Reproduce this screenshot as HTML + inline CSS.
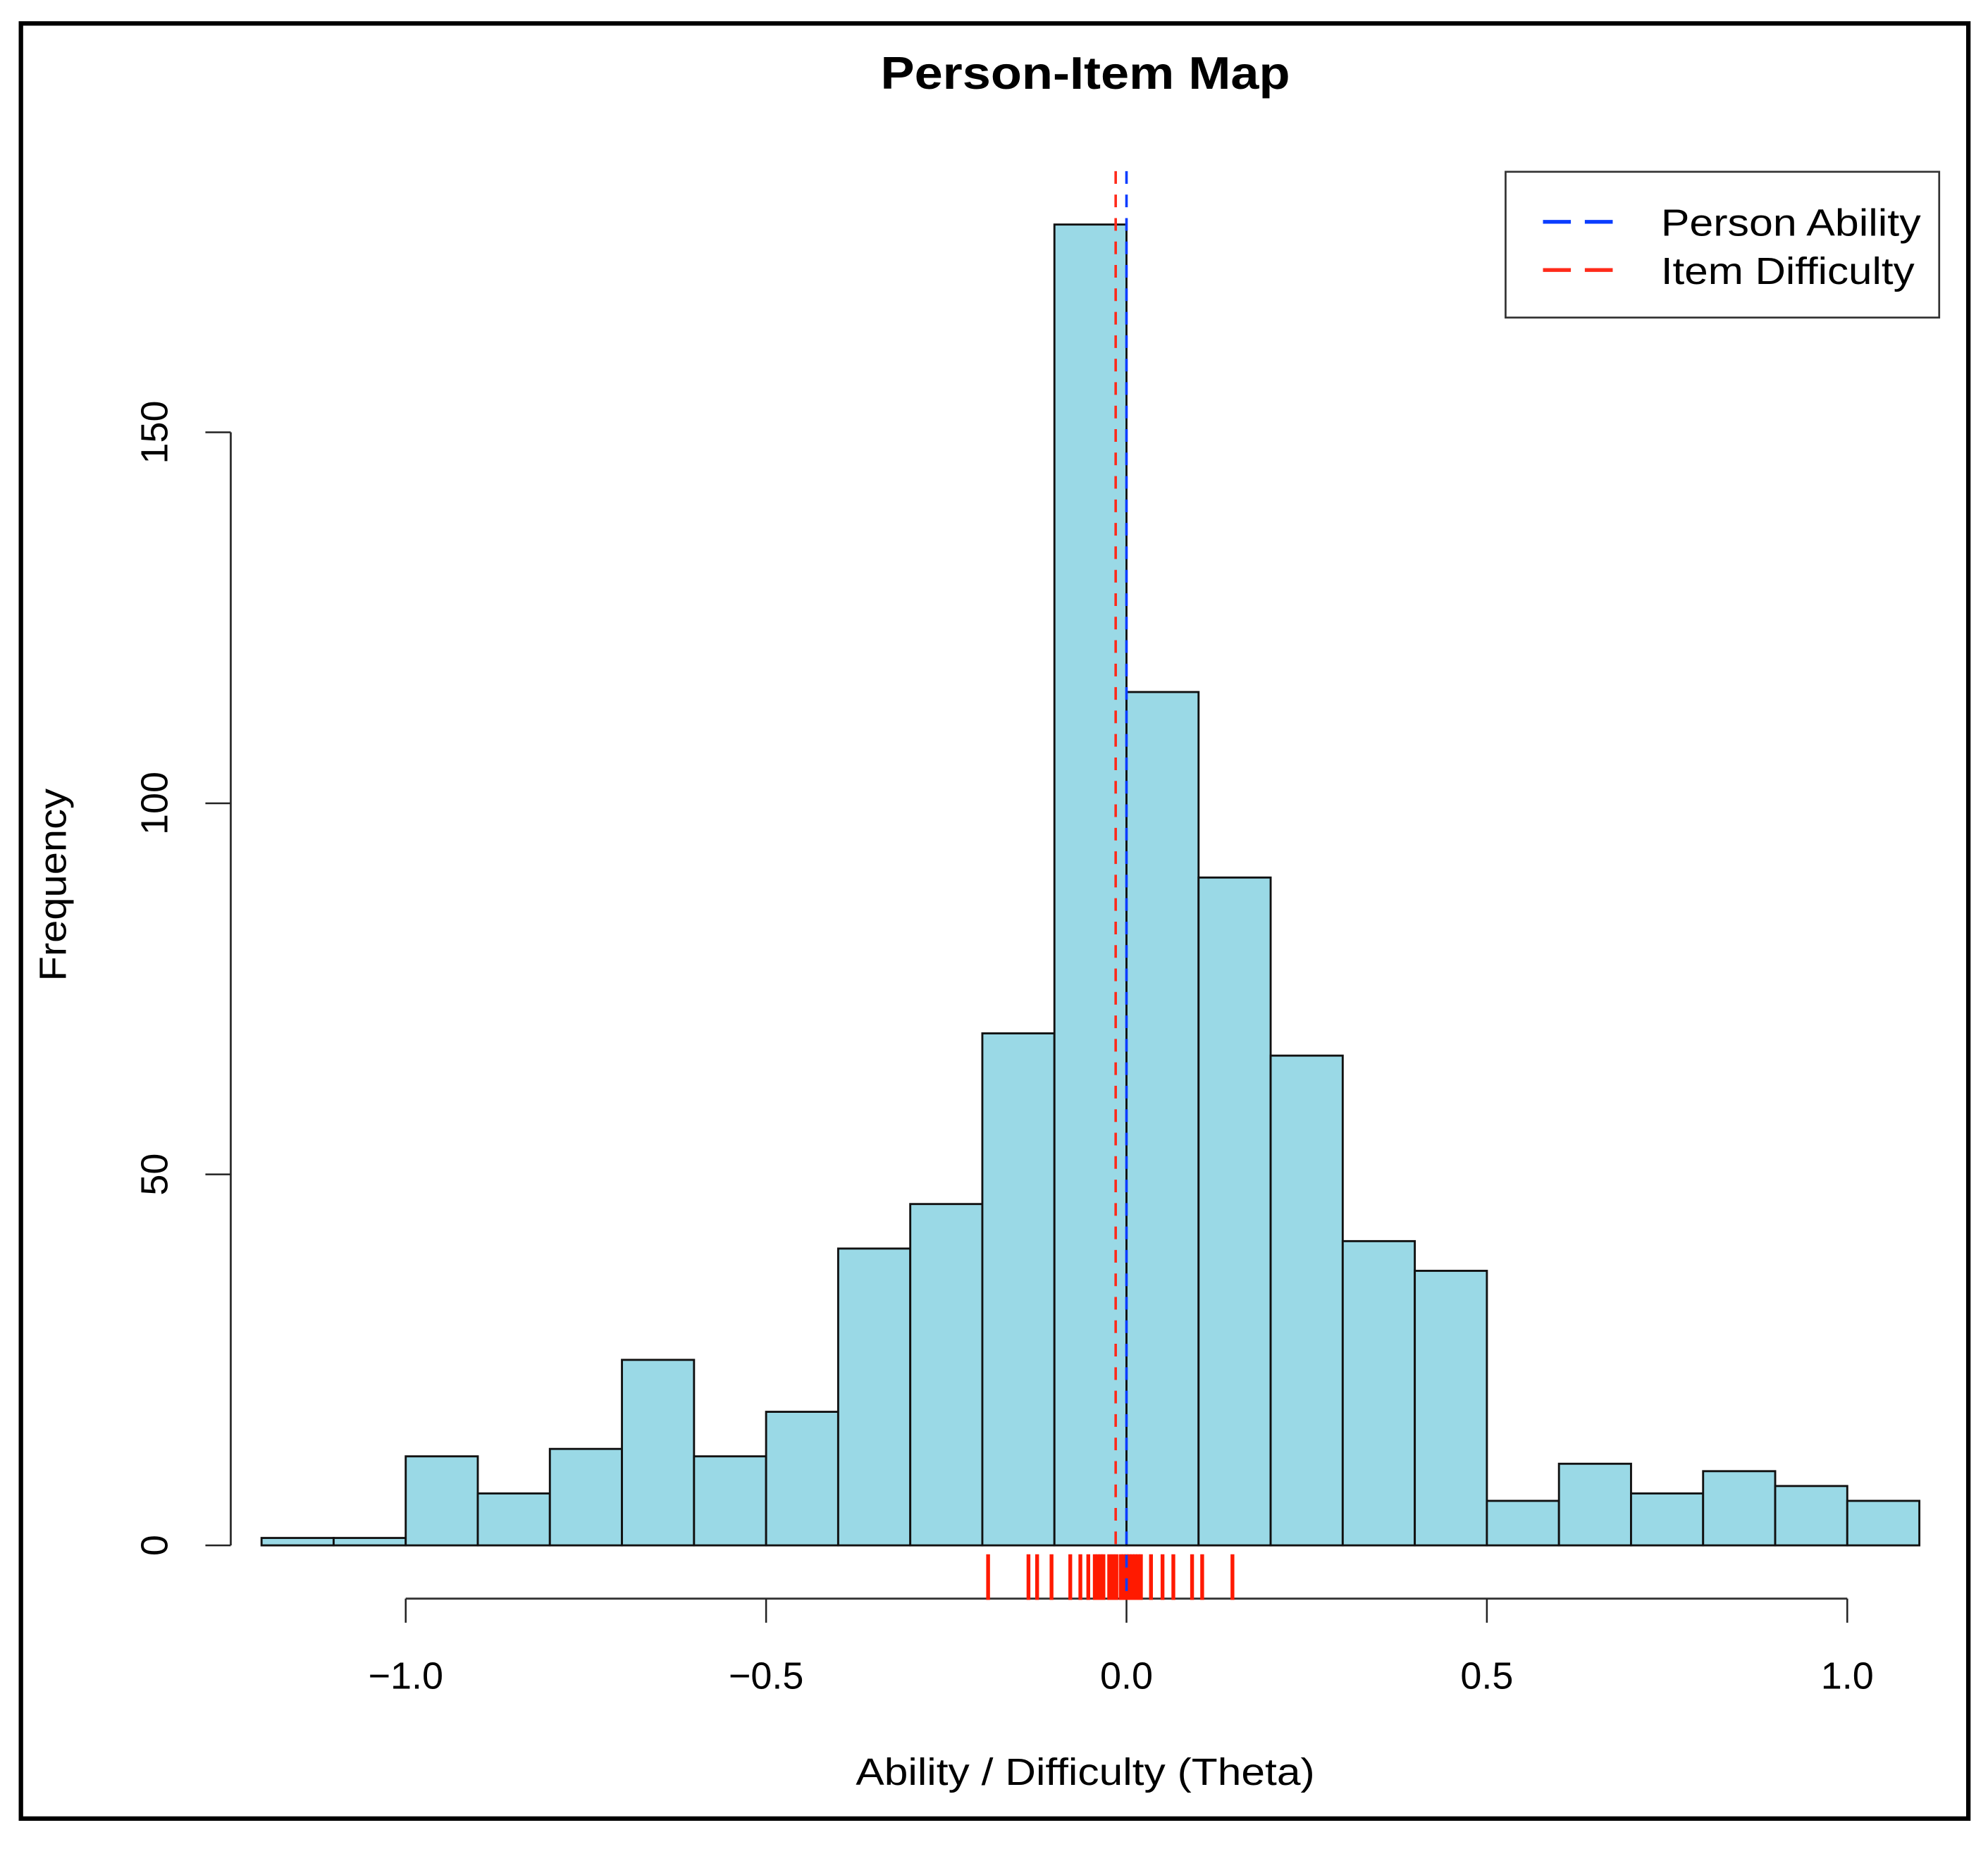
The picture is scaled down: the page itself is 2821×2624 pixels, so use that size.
<!DOCTYPE html>
<html><head><meta charset="utf-8"><style>
html,body{margin:0;padding:0;background:#fff;}
svg{display:block;font-family:"Liberation Sans",Arial,sans-serif;}
</style></head>
<body>
<svg id="chart" width="2821" height="2624" viewBox="0 0 1568 1458.5" xmlns="http://www.w3.org/2000/svg">
<rect x="0" y="0" width="1568" height="1458.5" fill="#fff"/>
<rect x="16.5" y="18.5" width="1536" height="1416" fill="none" stroke="#000" stroke-width="3.5"/>
<text x="856" y="70" text-anchor="middle" font-weight="bold" font-size="36" textLength="323" lengthAdjust="spacingAndGlyphs">Person-Item Map</text>
<g id="bars"></g>
<g id="yaxis"></g>
<g id="xaxis"></g>
<g id="rug"></g>
<g id="refs"></g>
<text transform="translate(52,698) rotate(-90)" text-anchor="middle" font-size="30" textLength="152" lengthAdjust="spacingAndGlyphs">Frequency</text>
<text x="856" y="1408" text-anchor="middle" font-size="30" textLength="362" lengthAdjust="spacingAndGlyphs">Ability / Difficulty (Theta)</text>
<g>
<rect x="1187.5" y="135.5" width="342" height="115" fill="#fff" stroke="#333" stroke-width="1.5"/>
<g>
<line x1="1217" y1="175" x2="1272" y2="175" stroke="#0a3cff" stroke-width="3" stroke-dasharray="22,11"/>
<text x="1310" y="186" font-size="30" textLength="205" lengthAdjust="spacingAndGlyphs">Person Ability</text>
</g>
<g>
<line x1="1217" y1="213" x2="1272" y2="213" stroke="#ff2a1a" stroke-width="3" stroke-dasharray="22,11"/>
<text x="1310" y="224" font-size="30" textLength="200" lengthAdjust="spacingAndGlyphs">Item Difficulty</text>
</g>
</g>
</svg>
<script>
const binStarts = [-1.2,-1.1,-1.0,-0.9,-0.8,-0.7,-0.6,-0.5,-0.4,-0.3,-0.2,-0.1,0.0,0.1,0.2,0.3,0.4,0.5,0.6,0.7,0.8,0.9,1.0];
const counts = [1,1,12,7,13,25,12,18,40,46,69,178,115,90,66,41,37,6,11,7,10,8,6];
const binWidth = 0.1;
const yTicks = [0,50,100,150];
const xTicks = [-1.0,-0.5,0.0,0.5,1.0];
const xTickLabels = ["\u22121.0","\u22120.5","0.0","0.5","1.0"];
const itemDifficulties = [-0.192,-0.136,-0.124,-0.104,-0.078,-0.064,-0.053,-0.044,-0.040,-0.036,-0.032,-0.024,-0.019,-0.014,-0.008,-0.004,0.0,0.004,0.008,0.012,0.016,0.020,0.034,0.050,0.065,0.091,0.105,0.147];
const personMean = 0.0;
const itemMean = -0.015;

const NS = "http://www.w3.org/2000/svg";
function xs(v){ return 888.5 + v * 568.5; }
function ys(v){ return 1219 - v * (878 / 150); }
function mk(tag, attrs, parent){
  const e = document.createElementNS(NS, tag);
  for (const k in attrs) e.setAttribute(k, attrs[k]);
  parent.appendChild(e);
  return e;
}
const bars = document.getElementById('bars');
binStarts.forEach((b, i) => {
  const x0 = xs(b), x1 = xs(b + binWidth), y = ys(counts[i]);
  const r = mk('rect', {x:x0, y:y, width:x1-x0, height:ys(0)-y, fill:'#9ad9e6', stroke:'#111', 'stroke-width':1.6}, bars);
  
  
});
const ya = document.getElementById('yaxis');
mk('line', {x1:182, y1:ys(yTicks[0]), x2:182, y2:ys(yTicks[yTicks.length-1]), stroke:'#333', 'stroke-width':1.6}, ya);
yTicks.forEach(t => {
  mk('line', {x1:162, y1:ys(t), x2:182, y2:ys(t), stroke:'#222', 'stroke-width':1.4}, ya);
  const tx = mk('text', {transform:`translate(132,${ys(t)}) rotate(-90)`, 'text-anchor':'middle', 'font-size':30}, ya);
  tx.textContent = String(t);
  
  
});
const xa = document.getElementById('xaxis');
mk('line', {x1:xs(xTicks[0]), y1:1261, x2:xs(xTicks[xTicks.length-1]), y2:1261, stroke:'#333', 'stroke-width':1.6}, xa);
xTicks.forEach((t, i) => {
  mk('line', {x1:xs(t), y1:1261, x2:xs(t), y2:1280, stroke:'#222', 'stroke-width':1.4}, xa);
  const tx = mk('text', {x:xs(t), y:1332, 'text-anchor':'middle', 'font-size':30}, xa);
  tx.textContent = xTickLabels[i];
  
  
});
const rug = document.getElementById('rug');
itemDifficulties.forEach(d => {
  const l = mk('line', {x1:xs(d), y1:1226, x2:xs(d), y2:1262, stroke:'#ff1a00', 'stroke-width':3}, rug);
  
  
});
const refs = document.getElementById('refs');
const rl = mk('line', {x1:xs(itemMean), y1:135, x2:xs(itemMean), y2:1219, stroke:'#ff2a1a', 'stroke-width':2, 'stroke-dasharray':'10,8.5'}, refs);


const bl = mk('line', {x1:xs(personMean), y1:135, x2:xs(personMean), y2:1262, stroke:'#0a3cff', 'stroke-width':2, 'stroke-dasharray':'10,8.5'}, refs);


</script>
</body></html>
